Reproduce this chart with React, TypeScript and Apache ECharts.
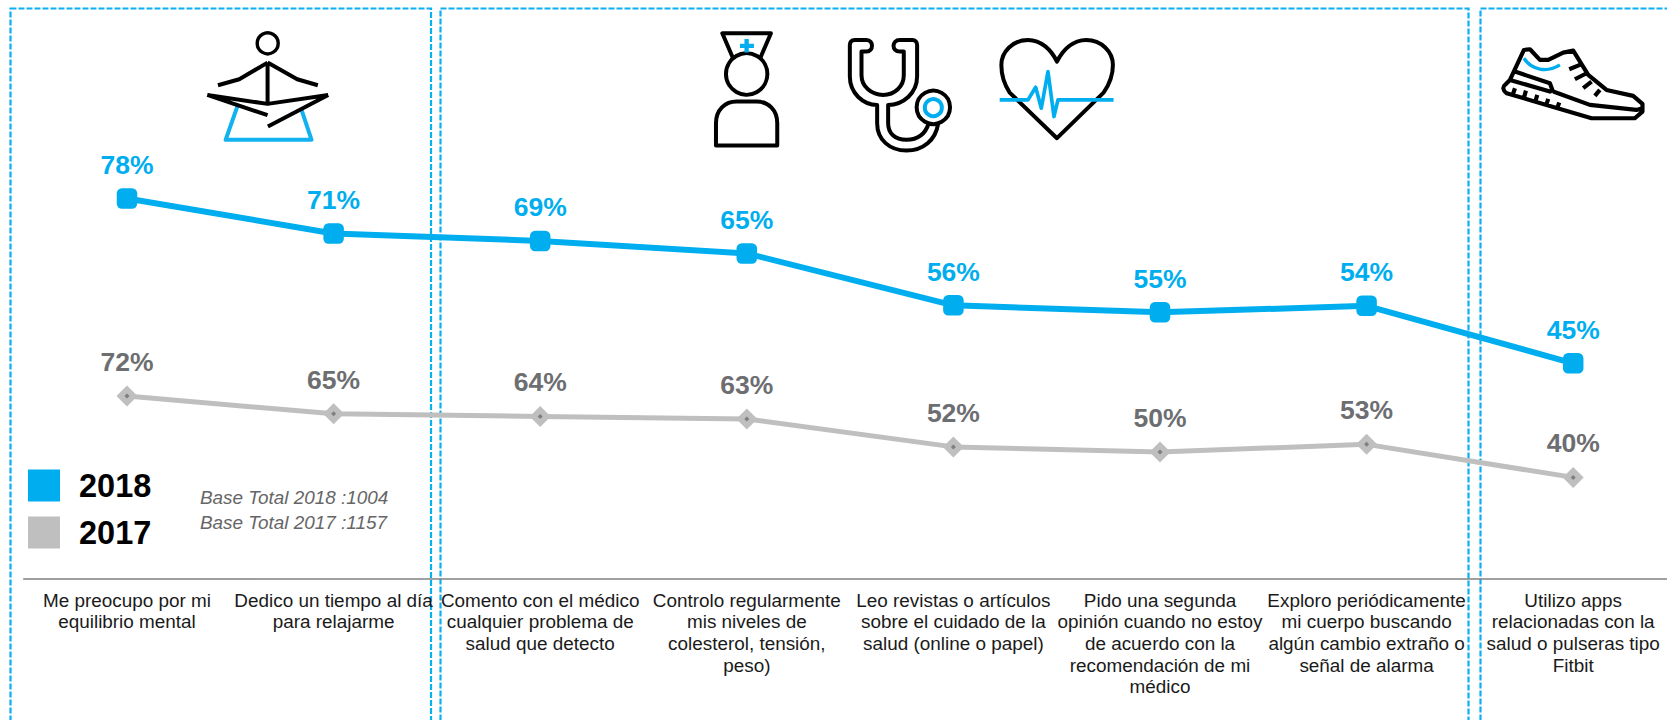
import React, { useEffect, useRef } from "react";
import * as echarts from "echarts";

const categories = [
  "Me preocupo por mi\nequilibrio mental",
  "Dedico un tiempo al día\npara relajarme",
  "Comento con el médico\ncualquier problema de\nsalud que detecto",
  "Controlo regularmente\nmis niveles de\ncolesterol, tensión,\npeso)",
  "Leo revistas o artículos\nsobre el cuidado de la\nsalud (online o papel)",
  "Pido una segunda\nopinión cuando no estoy\nde acuerdo con la\nrecomendación de mi\nmédico",
  "Exploro periódicamente\nmi cuerpo buscando\nalgún cambio extraño o\nseñal de alarma",
  "Utilizo apps\nrelacionadas con la\nsalud o pulseras tipo\nFitbit",
];
// Plotted heights
const values2018 = [78, 71, 69.5, 67, 56.6, 55.2, 56.5, 45];
const values2017 = [72, 65, 64, 63, 52, 50, 53, 40];
// Printed labels
const labels2018 = ["78%", "71%", "69%", "65%", "56%", "55%", "54%", "45%"];
const labels2017 = ["72%", "65%", "64%", "63%", "52%", "50%", "53%", "40%"];
const baseNotes = ["Base Total 2018 :1004", "Base Total 2017 :1157"];

const BLUE = "#00AEEF";
const GREY = "#BFBFBF";
const FONT = '"Liberation Sans", Arial, sans-serif';

const shapes: Record<string, string> = {
  medBody:
    "M263 188L178 238L114 256M263 188L352 238L414 256M263 188L263 312M82 285L263 312L445 285M82 285L263 346M445 285L264 380",
  medBase: "M172 320L137 420L395 420L365 330",
  nurse:
    "M128 172L97 100L243 100L212 172M78 437L262 437L262 370C262 330 235 305 200 305L140 305C105 305 78 330 78 370Z",
  cross: "M170 117L170 158M150 138L192 138",
  steth:
    "M530 120L495 120C485 120 480 127 480 135L480 230C480 280 520 315 562 315L562 370C562 420 600 452 650 452C700 452 738 420 745 372M716 372C708 400 685 420 650 420C615 420 595 400 595 370L595 315C640 315 682 280 682 230L682 135C682 127 676 120 668 120L630 120C605 120 605 155 630 155L642 155L642 225C642 260 615 285 580 285C545 285 515 260 515 225L515 155L530 155C552 155 552 120 530 120",
  heart:
    "M1102 415L960 278C945 255 935 230 935 195C935 155 970 120 1015 120C1055 120 1085 150 1102 185C1120 150 1150 120 1190 120C1235 120 1270 155 1270 195C1270 230 1258 255 1242 278Z",
  ecg: "M930 300L1015 300L1038 262L1055 325L1075 215L1093 350L1105 300L1272 300",
  shoe:
    "M150 240L192 150L210 148L240 180L265 180L310 158L340 152L385 225L440 270L520 288L548 312L548 335L525 355L395 355L140 280C128 272 128 260 135 255L150 240L270 275L278 272L270 250L165 215M280 275L390 315L530 330L548 325M165 265L160 280M198 272L193 290M232 285L227 302M265 297L260 312M298 308L293 322M328 208L360 195M345 238L380 220M370 265L395 245M405 288L420 270",
  shoeBlue: "M192 175C215 210 260 220 300 195",
};
let registered = false;
function registerShapes() {
  if (registered) return;
  registered = true;
  Object.keys(shapes).forEach((k) => {
    echarts.graphic.registerShape(k, echarts.graphic.extendPath(shapes[k], {}) as any);
  });
}

function icon(type: string, ox: number, stroke: string, lineWidth: number) {
  return {
    type,
    x: ox,
    y: 0,
    scaleX: 1 / 3,
    scaleY: 1 / 3,
    style: { stroke, fill: "none", lineWidth, lineJoin: "round" },
  };
}

function ring(cx: number, cy: number, r: number, stroke: string, lineWidth: number) {
  return { type: "circle", shape: { cx, cy, r }, style: { stroke, fill: "none", lineWidth } };
}

function dashed(x: number, y: number, width: number, height: number) {
  return {
    type: "rect",
    shape: { x, y, width, height },
    style: { stroke: "#0CB0F2", fill: "none", lineWidth: 2.2, lineDash: [6, 2] },
  };
}

export default function App() {
  const ref = useRef<HTMLDivElement>(null);
  useEffect(() => {
    registerShapes();
    const chart = echarts.init(ref.current!, undefined, { renderer: "svg" });
    chart.setOption({
      animation: false,
      backgroundColor: "#fff",
      grid: { left: 23.7, top: 0, width: 1652.8, height: 578.5, outerBoundsMode: "none" },
      legend: {
        data: ["2018", "2017"],
        orient: "vertical",
        left: 28,
        top: 469,
        itemWidth: 32,
        itemHeight: 32,
        itemGap: 14,
        padding: 0,
        icon: "rect",
        selectedMode: false,
        textStyle: { fontFamily: FONT, fontSize: 32.5, fontWeight: "bold", color: "#000", padding: [0, 0, 0, 14] },
      },
      xAxis: {
        type: "category",
        data: categories,
        axisTick: { show: false },
        axisLine: { lineStyle: { color: "#808080", width: 1.5 } },
        axisLabel: {
          interval: 0,
          margin: 11,
          fontFamily: FONT,
          fontSize: 18.9,
          lineHeight: 21.6,
          color: "#1a1a1a",
          align: "center",
        },
      },
      yAxis: [
        { type: "value", show: false, min: 1.91, max: 117.74 },
        { type: "value", show: false, min: 0.23, max: 227.79 },
      ],
      series: [
        {
          name: "2018",
          type: "line",
          yAxisIndex: 0,
          z: 5,
          data: values2018,
          symbol: "roundRect",
          symbolSize: 20.5,
          itemStyle: { color: BLUE },
          lineStyle: { color: BLUE, width: 6 },
          label: {
            show: true,
            position: "top",
            distance: 10,
            fontFamily: FONT,
            fontSize: 26.5,
            fontWeight: "bold",
            color: BLUE,
            formatter: (p: any) => labels2018[p.dataIndex],
          },
        },
        {
          name: "2017",
          type: "line",
          yAxisIndex: 1,
          z: 1,
          data: values2017,
          symbol: "diamond",
          symbolSize: 21,
          itemStyle: { color: GREY },
          lineStyle: { color: GREY, width: 5 },
          label: {
            show: true,
            position: "top",
            distance: 10,
            fontFamily: FONT,
            fontSize: 26.5,
            fontWeight: "bold",
            color: "#6D6E71",
            formatter: (p: any) => labels2017[p.dataIndex],
          },
        },
        {
          name: "2017 centro",
          type: "line",
          yAxisIndex: 1,
          z: 2,
          data: values2017,
          symbol: "diamond",
          symbolSize: 5,
          itemStyle: { color: "#7F7F7F" },
          lineStyle: { opacity: 0 },
          silent: true,
        },
      ],
      graphic: {
        z: 3,
        elements: [
          dashed(10.5, 8.5, 420.5, 740),
          dashed(440.5, 8.5, 1028, 740),
          dashed(1480.5, 8.5, 220, 740),
          ring(267.7, 43.3, 10.5, "#000", 3.4),
          icon("medBase", 180, "#12B2F0", 12),
          icon("medBody", 180, "#000", 12),
          icon("nurse", 690, "#000", 12),
          ring(690 + 170 / 3, 222 / 3, 20.7, "#000", 4),
          icon("cross", 690, BLUE, 13),
          icon("steth", 690, "#000", 12),
          ring(690 + 730 / 3, 322 / 3, 16.7, "#000", 4),
          ring(690 + 730 / 3, 323 / 3, 8.5, BLUE, 4),
          icon("heart", 690, "#000", 12),
          icon("ecg", 690, BLUE, 11),
          icon("shoe", 1460, "#000", 12.5),
          icon("shoeBlue", 1460, BLUE, 10),
          {
            type: "text",
            x: 200,
            y: 497.5,
            style: { text: baseNotes[0], font: `italic 18.9px ${FONT}`, fill: "#666", verticalAlign: "middle" },
          },
          {
            type: "text",
            x: 200,
            y: 522.5,
            style: { text: baseNotes[1], font: `italic 18.9px ${FONT}`, fill: "#666", verticalAlign: "middle" },
          },
        ],
      },
    });
    return () => chart.dispose();
  }, []);
  return <div ref={ref} style={{ position: "absolute", left: 0, top: 0, width: 1667, height: 720, overflow: "hidden" }} />;
}
